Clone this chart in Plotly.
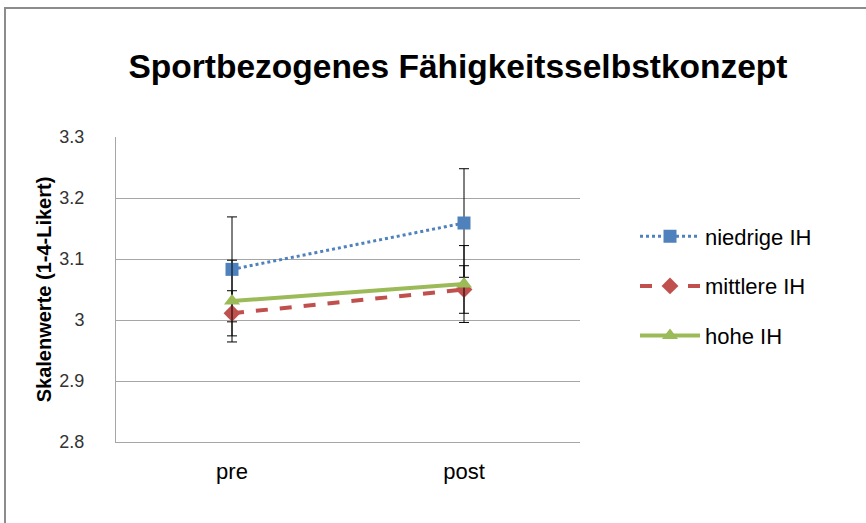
import plotly.graph_objects as go

categories = ["pre", "post"]
series_names = ["niedrige IH", "mittlere IH", "hohe IH"]
niedrige = [3.083, 3.159]
niedrige_err = [0.086, 0.089]
mittlere = [3.011, 3.050]
mittlere_err = [0.037, 0.039]
hohe = [3.031, 3.059]
hohe_err = [0.067, 0.063]
y_ticks = [2.8, 2.9, 3.0, 3.1, 3.2, 3.3]
y_ticktext = ["2.8", "2.9", "3", "3.1", "3.2", "3.3"]

W, H = 866, 523
L, R, T, B = 116, 580, 137, 442

styles = [
    dict(color="#4F81BD", dash="dot", width=3, symbol="square", size=13),
    dict(color="#C0504D", dash="dash", width=4, symbol="diamond", size=13),
    dict(color="#9BBB59", dash="solid", width=4, symbol="triangle-up", size=14),
]
values = [niedrige, mittlere, hohe]
errors = [niedrige_err, mittlere_err, hohe_err]

fig = go.Figure()
for i, (name, vals, errs, st) in enumerate(zip(series_names, values, errors, styles)):
    fig.add_trace(go.Scatter(
        x=categories, y=vals, name=name, mode="lines+markers",
        legendgroup=f"g{i}",
        line=dict(color=st["color"], dash=st["dash"], width=st["width"]),
        marker=dict(symbol=st["symbol"], size=st["size"], color=st["color"]),
        error_y=dict(type="data", array=errs, visible=True, color="#000000",
                     thickness=1, width=5),
    ))

fig.update_layout(
    width=W, height=H,
    margin=dict(l=L, r=W - R, t=T, b=H - B, pad=0),
    paper_bgcolor="white", plot_bgcolor="white",
    font=dict(family="Liberation Sans, Arial, sans-serif", color="#000000"),
    title=dict(text="<b>Sportbezogenes Fähigkeitsselbstkonzept</b>",
               x=458 / W, xanchor="center", y=1 - 66 / H, yanchor="middle",
               xref="container", yref="container",
               font=dict(size=33.5, family="Liberation Sans, Arial, sans-serif", color="#000000")),
    showlegend=True,
    legend=dict(x=(635 - L) / (R - L), xanchor="left", y=(B - 286) / (B - T), yanchor="middle",
                font=dict(size=22, color="#000000"), traceorder="grouped",
                tracegroupgap=18, itemwidth=60, bgcolor="rgba(0,0,0,0)"),
    xaxis=dict(type="category", range=[-0.5, 1.5], showgrid=False,
               showline=True, linecolor="#A6A6A6", linewidth=1,
               ticks="outside", ticklen=10, tickcolor="rgba(0,0,0,0)",
               tickfont=dict(size=22, color="#000000")),
    yaxis=dict(range=[2.8, 3.3], tickvals=y_ticks, ticktext=y_ticktext,
               showgrid=True, gridcolor="#A6A6A6", gridwidth=1,
               showline=True, linecolor="#A6A6A6", linewidth=1,
               zeroline=False,
               ticks="outside", ticklen=27, tickcolor="rgba(0,0,0,0)",
               tickfont=dict(size=18, color="#333333"),
               title=dict(text="<b>Skalenwerte (1-4-Likert)</b>", standoff=2,
                          font=dict(size=20, color="#000000"))),
    shapes=[dict(type="rect", xref="paper", yref="paper",
                 x0=(5 - L) / (R - L), x1=(880 - L) / (R - L),
                 y0=(B - 540) / (B - T), y1=(B - 8) / (B - T),
                 line=dict(color="#8C8C8C", width=2), fillcolor="rgba(0,0,0,0)",
                 layer="below")],
)

fig.write_html("out.html", post_script="document.body.style.margin='0';",
               config={"displayModeBar": False})
